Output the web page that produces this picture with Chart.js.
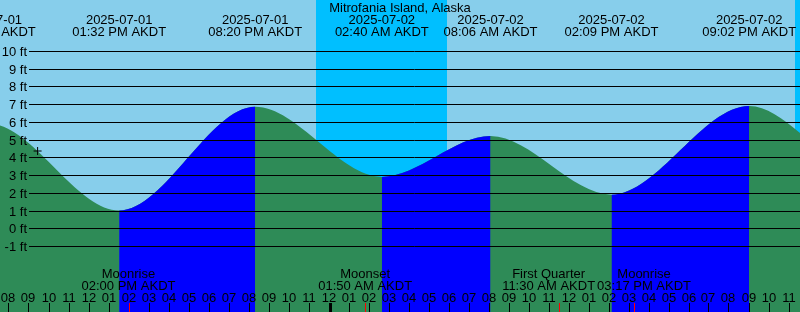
<!DOCTYPE html>
<html lang="en">
<head>
    <meta charset="UTF-8">
    <title>Mitrofania Island, Alaska</title>
    <script src="https://cdn.jsdelivr.net/npm/chart.js@4.4.1/dist/chart.umd.min.js"></script>
    <style>
        body { margin: 0; background: #87ceeb; }
        #wrap { width: 800px; height: 312px; }
    </style>
</head>
<body>
    <div id="wrap"><canvas id="tide" width="800" height="312"></canvas></div>

    <script>
        // hours since 2025-07-01 00:00 AKDT
        const tideTimes   = [0.8, 7.017, 13.533, 20.333, 26.667, 32.1, 38.15, 45.033, 50.8, 57.0];
        const tideHeights = [2.2, 5.9, 1.0, 6.85, 2.9, 5.2, 1.9, 6.9, 3.2, 6.4];
        const tideDates   = [null, '2025-07-01', '2025-07-01', '2025-07-01', '2025-07-02', '2025-07-02', '2025-07-02', '2025-07-02', null, null];
        const tideClock   = [null, '07:01 AM AKDT', '01:32 PM AKDT', '08:20 PM AKDT', '02:40 AM AKDT', '08:06 AM AKDT', '02:09 PM AKDT', '09:02 PM AKDT', null, null];

        const nightStart = [23.37, 47.32];
        const nightEnd   = [29.9, 53.9];

        const moonTimes = [14.0, 25.833, 35.5, 39.283];
        const moonNames = ['Moonrise', 'Moonset', 'First Quarter', 'Moonrise'];
        const moonClock = ['02:00 PM AKDT', '01:50 AM AKDT', '11:30 AM AKDT', '03:17 PM AKDT'];

        const hourStart = 8;
        const hourLabels = ['08', '09', '10', '11', '12', '01', '02', '03', '04', '05', '06', '07', '08', '09', '10', '11',
                            '12', '01', '02', '03', '04', '05', '06', '07', '08', '09', '10', '11', '12', '01', '02', '03',
                            '04', '05', '06', '07', '08', '09', '10', '11'];
        const midnights = [24];

        const yTicks = [-1, 0, 1, 2, 3, 4, 5, 6, 7, 8, 9, 10];
        const yTickLabels = ['-1 ft', '0 ft', '1 ft', '2 ft', '3 ft', '4 ft', '5 ft', '6 ft', '7 ft', '8 ft', '9 ft', '10 ft'];

        const nowTime = 9.455;
        const nowHeight = 4.36;

        const DAY = '#87ceeb', NIGHT = '#00bfff', FALL = '#2e8b57', RISE = '#0000ff';
        const FONT = '13px "Liberation Sans", Arial, sans-serif';

        const tidePoints = tideTimes.map((t, i) => ({x: t, y: tideHeights[i]}));

        const overlay = {
            id: 'overlay',
            beforeDraw(chart) {
                const {ctx, chartArea: a, scales: {x}} = chart;
                ctx.save();
                ctx.fillStyle = DAY;
                ctx.fillRect(a.left, a.top, a.width, a.height);
                ctx.fillStyle = NIGHT;
                nightStart.forEach((s, i) => {
                    const x0 = Math.round(x.getPixelForValue(s));
                    const x1 = Math.round(x.getPixelForValue(nightEnd[i]));
                    ctx.fillRect(x0, a.top, x1 - x0, a.height);
                });
                ctx.restore();
            },
            afterDatasetsDraw(chart) {
                const {ctx, chartArea: a, scales: {x, y}} = chart;
                ctx.save();
                ctx.font = FONT;
                ctx.fillStyle = '#000';
                ctx.strokeStyle = '#000';
                ctx.lineWidth = 1;

                // height grid + labels
                yTicks.forEach((v, i) => {
                    const py = Math.round(y.getPixelForValue(v)) + 0.5;
                    ctx.beginPath();
                    ctx.moveTo(29, py);
                    ctx.lineTo(a.right, py);
                    ctx.stroke();
                    ctx.textAlign = 'right';
                    ctx.textBaseline = 'middle';
                    ctx.fillText(yTickLabels[i], 27, py + 0.5);
                });

                // title and tide events
                ctx.textAlign = 'center';
                ctx.textBaseline = 'alphabetic';
                ctx.fillText('Mitrofania Island, Alaska', 400, 11.5);
                tideTimes.forEach((t, i) => {
                    if (!tideDates[i]) return;
                    const px = x.getPixelForValue(t);
                    ctx.fillText(tideDates[i], px, 24);
                    ctx.fillText(tideClock[i], px, 36);
                });

                // moon events: push neighbouring labels apart when they collide
                const boxes = moonTimes.map((t, i) => ({
                    cx: x.getPixelForValue(t),
                    w: Math.max(ctx.measureText(moonNames[i]).width, ctx.measureText(moonClock[i]).width)
                }));
                for (let i = 1; i < boxes.length; i++) {
                    const l = boxes[i - 1], r = boxes[i];
                    const overlap = (l.cx + l.w / 2 + 2) - (r.cx - r.w / 2);
                    if (overlap > 0) {
                        l.cx -= overlap / 2;
                        r.cx += overlap / 2;
                    }
                }
                boxes.forEach((b, i) => {
                    ctx.fillText(moonNames[i], b.cx, 278);
                    ctx.fillText(moonClock[i], b.cx, 289.5);
                });

                // hour ticks
                hourLabels.forEach((lab, i) => {
                    const h = hourStart + i;
                    const px = Math.round(x.getPixelForValue(h));
                    ctx.fillText(lab, px, 301.5);
                    ctx.fillRect(px, 303, midnights.includes(h) ? 3 : 1, a.bottom - 303);
                });
                ctx.fillStyle = '#ff0000';
                moonTimes.forEach(t => {
                    const px = Math.round(x.getPixelForValue(t));
                    ctx.fillRect(px, 303, 1, a.bottom - 303);
                });
                ctx.restore();
            }
        };

        new Chart(document.getElementById('tide'), {
            type: 'line',
            data: {
                datasets: [
                    {
                        // whole water body, falling colour
                        data: tidePoints,
                        order: 3,
                        fill: 'start',
                        cubicInterpolationMode: 'monotone',
                        borderWidth: 0,
                        borderColor: 'rgba(0,0,0,0)',
                        backgroundColor: FALL,
                        pointRadius: 0
                    },
                    {
                        // rising stretches painted over it
                        data: tidePoints,
                        order: 2,
                        fill: 'start',
                        cubicInterpolationMode: 'monotone',
                        borderWidth: 0,
                        borderColor: 'rgba(0,0,0,0)',
                        backgroundColor: 'rgba(0,0,0,0)',
                        pointRadius: 0,
                        segment: {
                            backgroundColor: c => c.p1.parsed.y > c.p0.parsed.y ? RISE : 'rgba(0,0,0,0)'
                        }
                    },
                    {
                        data: [{x: nowTime, y: nowHeight}],
                        order: 1,
                        showLine: false,
                        pointStyle: 'cross',
                        pointRadius: 4,
                        pointBorderWidth: 1,
                        pointBorderColor: '#000'
                    }
                ]
            },
            options: {
                responsive: false,
                animation: false,
                devicePixelRatio: 1,
                layout: { padding: 0, autoPadding: false },
                plugins: { legend: { display: false }, tooltip: { enabled: false } },
                scales: {
                    x: { type: 'linear', min: 7.575, max: 47.575, display: false },
                    y: { min: -4.72, max: 12.877, display: false }
                }
            },
            plugins: [overlay]
        });
    </script>
</body>
</html>
